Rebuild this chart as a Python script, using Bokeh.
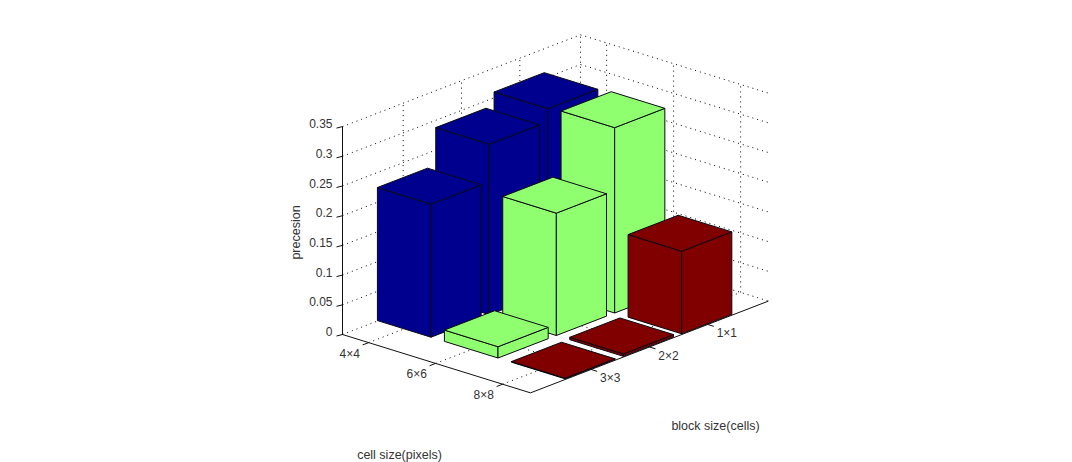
from bokeh.plotting import figure
from bokeh.models import Range1d, ColumnDataSource
from bokeh.core.properties import value
from bokeh.embed import file_html
from bokeh.resources import INLINE
import math

# ---- data ----
cell_labels = ["4\u00d74", "6\u00d76", "8\u00d78"]
block_labels = ["1\u00d71", "2\u00d72", "3\u00d73"]
z_ticks = [0, 0.05, 0.1, 0.15, 0.2, 0.25, 0.3, 0.35]
z_tick_labels = ["0", "0.05", "0.1", "0.15", "0.2", "0.25", "0.3", "0.35"]
precision_4x4 = [0.309, 0.287, 0.224]   # blocks 1x1, 2x2, 3x3
precision_6x6 = [0.312, 0.206, 0.019]
precision_8x8 = [0.139, 0.004, 0.001]
series_colors = ["#00008F", "#8FFF70", "#800000"]
z_title = "precesion"
cell_title = "cell size(pixels)"
block_title = "block size(cells)"

# ---- projection of the 3-D axes box onto the page ----
U0, U1 = 0.61, 3.416      # cell axis limits
V0, V1 = -0.04, 4.04      # block axis limits
Z1 = 0.35
BAR_U, BAR_V = 0.4, 0.43  # half bar widths
OX, OY = 342.0, 334.0     # page position of (U0, V1, 0)
UX, UY = 67.0, 20.8       # page px per cell-axis unit
VX, VY = -58.33, 22.5     # page px per block-axis unit
ZY = -594.0               # page px per unit of precision


def proj(u, v, z=0.0):
    return (OX + (u - U0) * UX + (v - V1) * VX,
            OY + (u - U0) * UY + (v - V1) * VY + z * ZY)


W, H = 1072, 462
p = figure(width=W, height=H, x_range=Range1d(0, W), y_range=Range1d(H, 0),
           output_backend="svg", toolbar_location=None,
           x_axis_location=None, y_axis_location=None, min_border=0)
p.grid.visible = False
p.outline_line_color = None
p.background_fill_color = "white"
p.border_fill_color = "white"


def segs(pairs):
    return dict(xs=[[a[0], b[0]] for a, b in pairs], ys=[[a[1], b[1]] for a, b in pairs])


# dotted grid on walls and floor
grid = []
for z in z_ticks:
    grid.append((proj(U0, V1, z), proj(U0, V0, z)))
    grid.append((proj(U0, V0, z), proj(U1, V0, z)))
for i in range(len(cell_labels)):
    u = i + 1
    grid.append((proj(u, V1), proj(u, V0)))
    grid.append((proj(u, V0), proj(u, V0, Z1)))
for i in range(len(block_labels)):
    v = i + 1
    grid.append((proj(U1, v), proj(U0, v)))
    grid.append((proj(U0, v), proj(U0, v, Z1)))
grid.append((proj(U0, V0), proj(U0, V0, Z1)))
p.multi_line(source=ColumnDataSource(segs(grid)), xs="xs", ys="ys",
             line_color="#000000", line_width=1, line_dash="1 4")

# solid axes
axes = [(proj(U0, V1), proj(U0, V1, Z1)),
        (proj(U0, V1), proj(U1, V1)),
        (proj(U1, V1), proj(U1, V0))]
for z in z_ticks:
    a = proj(U0, V1, z)
    axes.append((a, (a[0] - 6, a[1] + 1.5)))
for i in range(len(cell_labels)):
    a = proj(i + 1, V1)
    axes.append((a, (a[0] - 6, a[1] + 2.3)))
for i in range(len(block_labels)):
    a = proj(U1, i + 1)
    axes.append((a, (a[0] + 6, a[1] + 1.9)))
p.multi_line(source=ColumnDataSource(segs(axes)), xs="xs", ys="ys",
             line_color="#111111", line_width=1)

# bars, painted back to front
for ci, series in enumerate([precision_4x4, precision_6x6, precision_8x8]):
    u = ci + 1
    for bi, val in enumerate(series):
        v = bi + 1
        a, b = u - BAR_U, u + BAR_U
        c, d = v - BAR_V, v + BAR_V
        faces = [
            [proj(a, d, 0), proj(b, d, 0), proj(b, d, val), proj(a, d, val)],
            [proj(b, d, 0), proj(b, c, 0), proj(b, c, val), proj(b, d, val)],
            [proj(a, c, val), proj(b, c, val), proj(b, d, val), proj(a, d, val)],
        ]
        p.patches([[q[0] for q in f] for f in faces], [[q[1] for q in f] for f in faces],
                  fill_color=series_colors[ci], line_color="#0a0a14", line_width=1)


def txt(x, y, s, align="center", angle=0.0, size="12px"):
    p.text(x=[x], y=[y], text=[s], angle=angle, text_align=align, text_baseline="middle",
           text_font=value("Liberation Sans"), text_font_size=value(size), text_color="#333333")


for z, lab in zip(z_ticks, z_tick_labels):
    a = proj(U0, V1, z)
    txt(a[0] - 10, a[1] - 3, lab, align="right")
for i, lab in enumerate(cell_labels):
    a = proj(i + 1, V1)
    txt(a[0] - 19, a[1] + 11, lab)
for i, lab in enumerate(block_labels):
    a = proj(U1, i + 1)
    txt(a[0] + 19, a[1] + 9, lab)
txt(295, 232, z_title, angle=math.pi / 2, size="12.5px")
txt(399, 454, cell_title, size="12.5px")
txt(715, 425, block_title, size="12.5px")

open("out.html", "w").write(file_html(p, INLINE))
